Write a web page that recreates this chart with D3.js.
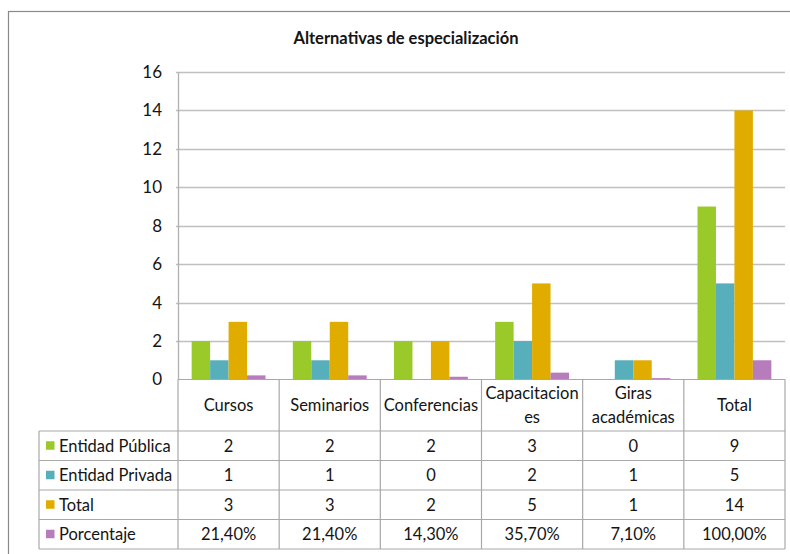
<!DOCTYPE html>
<html>
<head>
<meta charset="utf-8">
<script src="https://cdn.jsdelivr.net/npm/d3@7"></script>
<style>
  html, body { margin: 0; padding: 0; background: #fff; }
  svg { display: block; }
  text { font-family: Lato, "Open Sans", sans-serif; fill: #141414; }
</style>
</head>
<body>
<svg id="chart" width="790" height="554"></svg>
<script>
// ---- data ----
const categories = ["Cursos", "Seminarios", "Conferencias", "Capacitaciones", "Giras académicas", "Total"];
const categoryLines = [["Cursos"], ["Seminarios"], ["Conferencias"], ["Capacitacion", "es"], ["Giras", "académicas"], ["Total"]];
const seriesNames = ["Entidad Pública", "Entidad Privada", "Total", "Porcentaje"];
const entidadPublica = [2, 2, 2, 3, 0, 9];
const entidadPrivada = [1, 1, 0, 2, 1, 5];
const totalValues = [3, 3, 2, 5, 1, 14];
const porcentaje = [0.214, 0.214, 0.143, 0.357, 0.071, 1.0];
const porcentajeLabels = ["21,40%", "21,40%", "14,30%", "35,70%", "7,10%", "100,00%"];
const yTicks = [0, 2, 4, 6, 8, 10, 12, 14, 16];
const title = "Alternativas de especialización";

const colors = ["#9AC92A", "#57AFBC", "#E0AC00", "#B67CBB"];
const seriesValues = [entidadPublica, entidadPrivada, totalValues, porcentaje];
const seriesLabels = [
  entidadPublica.map(String),
  entidadPrivada.map(String),
  totalValues.map(String),
  porcentajeLabels
];

// ---- layout ----
const svg = d3.select("#chart");
const plotLeft = 178, plotRight = 785, plotTop = 72, plotBottom = 379.5;
const headerBottom = 431, rowH = 29.5, legendLeft = 39;
const fs = 16.5;

// outer chart border
svg.append("rect")
  .attr("x", 8.5).attr("y", 11.5).attr("width", 900).attr("height", 700)
  .attr("fill", "none").attr("stroke", "#8a8a8a").attr("stroke-width", 1.2);

// title
svg.append("text")
  .attr("x", 406).attr("y", 44)
  .attr("text-anchor", "middle")
  .attr("font-weight", "bold").attr("font-size", 16.5)
  .text(title);

const y = d3.scaleLinear().domain([0, 16]).range([plotBottom, plotTop]);
const col = d3.scaleBand().domain(categories).range([plotLeft, plotRight]).padding(0);
const x0 = d3.scaleBand().domain(categories).range([plotLeft, plotRight])
  .paddingInner(0.27).paddingOuter(0.135);
const x1 = d3.scaleBand().domain(d3.range(4)).range([0, x0.bandwidth()]);

// gridlines
svg.append("g").selectAll("line").data(yTicks.filter(d => d > 0)).join("line")
  .attr("x1", plotLeft - 2).attr("x2", plotRight)
  .attr("y1", d => Math.round(y(d)) + 0.5).attr("y2", d => Math.round(y(d)) + 0.5)
  .attr("stroke", "#c0c0c0").attr("stroke-width", 1.3);

// y axis
const yAxis = d3.axisLeft(y).tickValues(yTicks).tickSize(0).tickPadding(16);
const gy = svg.append("g").attr("transform", `translate(${plotLeft},0)`).call(yAxis);
gy.select(".domain").attr("stroke", "#b0b0b0").attr("stroke-width", 1.3);
gy.selectAll("text").attr("font-size", 17).attr("fill", "#1a1a1a")
  .style("font-family", "Lato, sans-serif");

// bars
const groups = svg.append("g").selectAll("g").data(categories).join("g")
  .attr("transform", c => `translate(${x0(c)},0)`);
groups.selectAll("rect").data((c, i) => seriesValues.map((s, k) => ({ k, v: s[i] }))).join("rect")
  .attr("x", d => x1(d.k))
  .attr("width", x1.bandwidth())
  .attr("y", d => y(d.v))
  .attr("height", d => y(0) - y(d.v))
  .attr("fill", d => colors[d.k]);

// ---- data table ----
const tableStroke = "#a8a8a8";
const tableBottom = headerBottom + rowH * 4;
const t = svg.append("g").attr("stroke", tableStroke).attr("stroke-width", 1.2);
// horizontal lines
t.append("line").attr("x1", plotLeft).attr("x2", plotRight).attr("y1", plotBottom).attr("y2", plotBottom);
d3.range(5).forEach(r => {
  const yy = headerBottom + r * rowH;
  t.append("line").attr("x1", legendLeft).attr("x2", plotRight).attr("y1", yy).attr("y2", yy);
});
// vertical lines
categories.forEach(c => {
  t.append("line").attr("x1", col(c)).attr("x2", col(c)).attr("y1", plotBottom).attr("y2", tableBottom);
});
t.append("line").attr("x1", plotRight).attr("x2", plotRight).attr("y1", plotBottom).attr("y2", tableBottom);
t.append("line").attr("x1", legendLeft).attr("x2", legendLeft).attr("y1", headerBottom).attr("y2", tableBottom);

// header labels
categories.forEach((c, i) => {
  const lines = categoryLines[i];
  const cx = col(c) + col.bandwidth() / 2;
  const cy = (plotBottom + headerBottom) / 2;
  const lh = 23.5;
  lines.forEach((ln, j) => {
    svg.append("text")
      .attr("x", cx)
      .attr("y", cy + (j - (lines.length - 1) / 2) * lh)
      .attr("dy", "0.35em")
      .attr("text-anchor", "middle").attr("font-size", fs)
      .text(ln);
  });
});

// rows
seriesNames.forEach((name, r) => {
  const cy = headerBottom + r * rowH + rowH / 2;
  svg.append("rect").attr("x", 46).attr("y", cy - 4.5).attr("width", 8.5).attr("height", 8.5)
    .attr("fill", colors[r]);
  svg.append("text").attr("x", 59).attr("y", cy).attr("dy", "0.35em")
    .attr("font-size", fs).text(name);
  categories.forEach((c, i) => {
    svg.append("text")
      .attr("x", col(c) + col.bandwidth() / 2).attr("y", cy).attr("dy", "0.35em")
      .attr("text-anchor", "middle").attr("font-size", fs)
      .text(seriesLabels[r][i]);
  });
});
</script>
</body>
</html>
